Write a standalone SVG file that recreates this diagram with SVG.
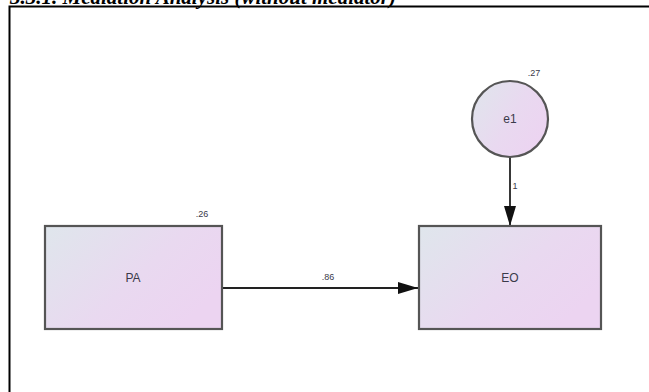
<svg xmlns="http://www.w3.org/2000/svg" width="649" height="392" viewBox="0 0 649 392">
  <style>
    .title { font-family: "Liberation Serif", "Times New Roman", serif; font-size: 21px; font-weight: bold; font-style: italic; fill: #000; }
    .node { fill: url(#nodeFill); stroke: #555; stroke-width: 2.2; }
    .label { font-family: "Liberation Sans", Arial, sans-serif; font-size: 12px; fill: #3a3a4a; text-anchor: middle; }
    .est { font-family: "Liberation Sans", Arial, sans-serif; font-size: 9px; fill: #3a3a4a; text-anchor: middle; }
    .path { stroke: #222; stroke-width: 1.8; fill: none; marker-end: url(#arrow); }
    .frame { stroke: #000; stroke-width: 2; fill: none; }
  </style>
  <defs>
    <linearGradient id="nodeFill" x1="0" y1="0" x2="1" y2="0.6">
      <stop offset="0" stop-color="#dfe6ec"/>
      <stop offset="0.6" stop-color="#e9d9f0"/>
      <stop offset="1" stop-color="#ecd4f1"/>
    </linearGradient>
    <marker id="arrow" viewBox="0 0 20 12" refX="20" refY="6" markerWidth="20" markerHeight="12" markerUnits="userSpaceOnUse" orient="auto">
      <path d="M0,0 L20,6 L0,12 Z" fill="#111"/>
    </marker>
  </defs>

  <!-- heading, running off the top of the page -->
  <text class="title" x="10" y="4">3.3.1. Mediation Analysis (without mediator)</text>

  <!-- figure frame -->
  <path class="frame" d="M9.5,392 V6.5 H649"/>

  <!-- connectors -->
  <g id="connectors">
    <line class="path" x1="223" y1="288" x2="418" y2="288"/>
    <text class="est" x="328" y="280">.86</text>
    <line class="path" x1="510" y1="157" x2="510" y2="226"/>
    <text class="est" x="515" y="189">1</text>
  </g>

  <g id="PA">
    <rect class="node" x="45" y="226" width="177" height="103"/>
    <text class="label" x="133" y="282">PA</text>
    <text class="est" x="202" y="217">.26</text>
  </g>

  <g id="EO">
    <rect class="node" x="419" y="226" width="182" height="103"/>
    <text class="label" x="510" y="282">EO</text>
  </g>

  <g id="e1">
    <circle class="node" cx="510" cy="119" r="38"/>
    <text class="label" x="510" y="123">e1</text>
    <text class="est" x="534" y="76">.27</text>
  </g>
</svg>
